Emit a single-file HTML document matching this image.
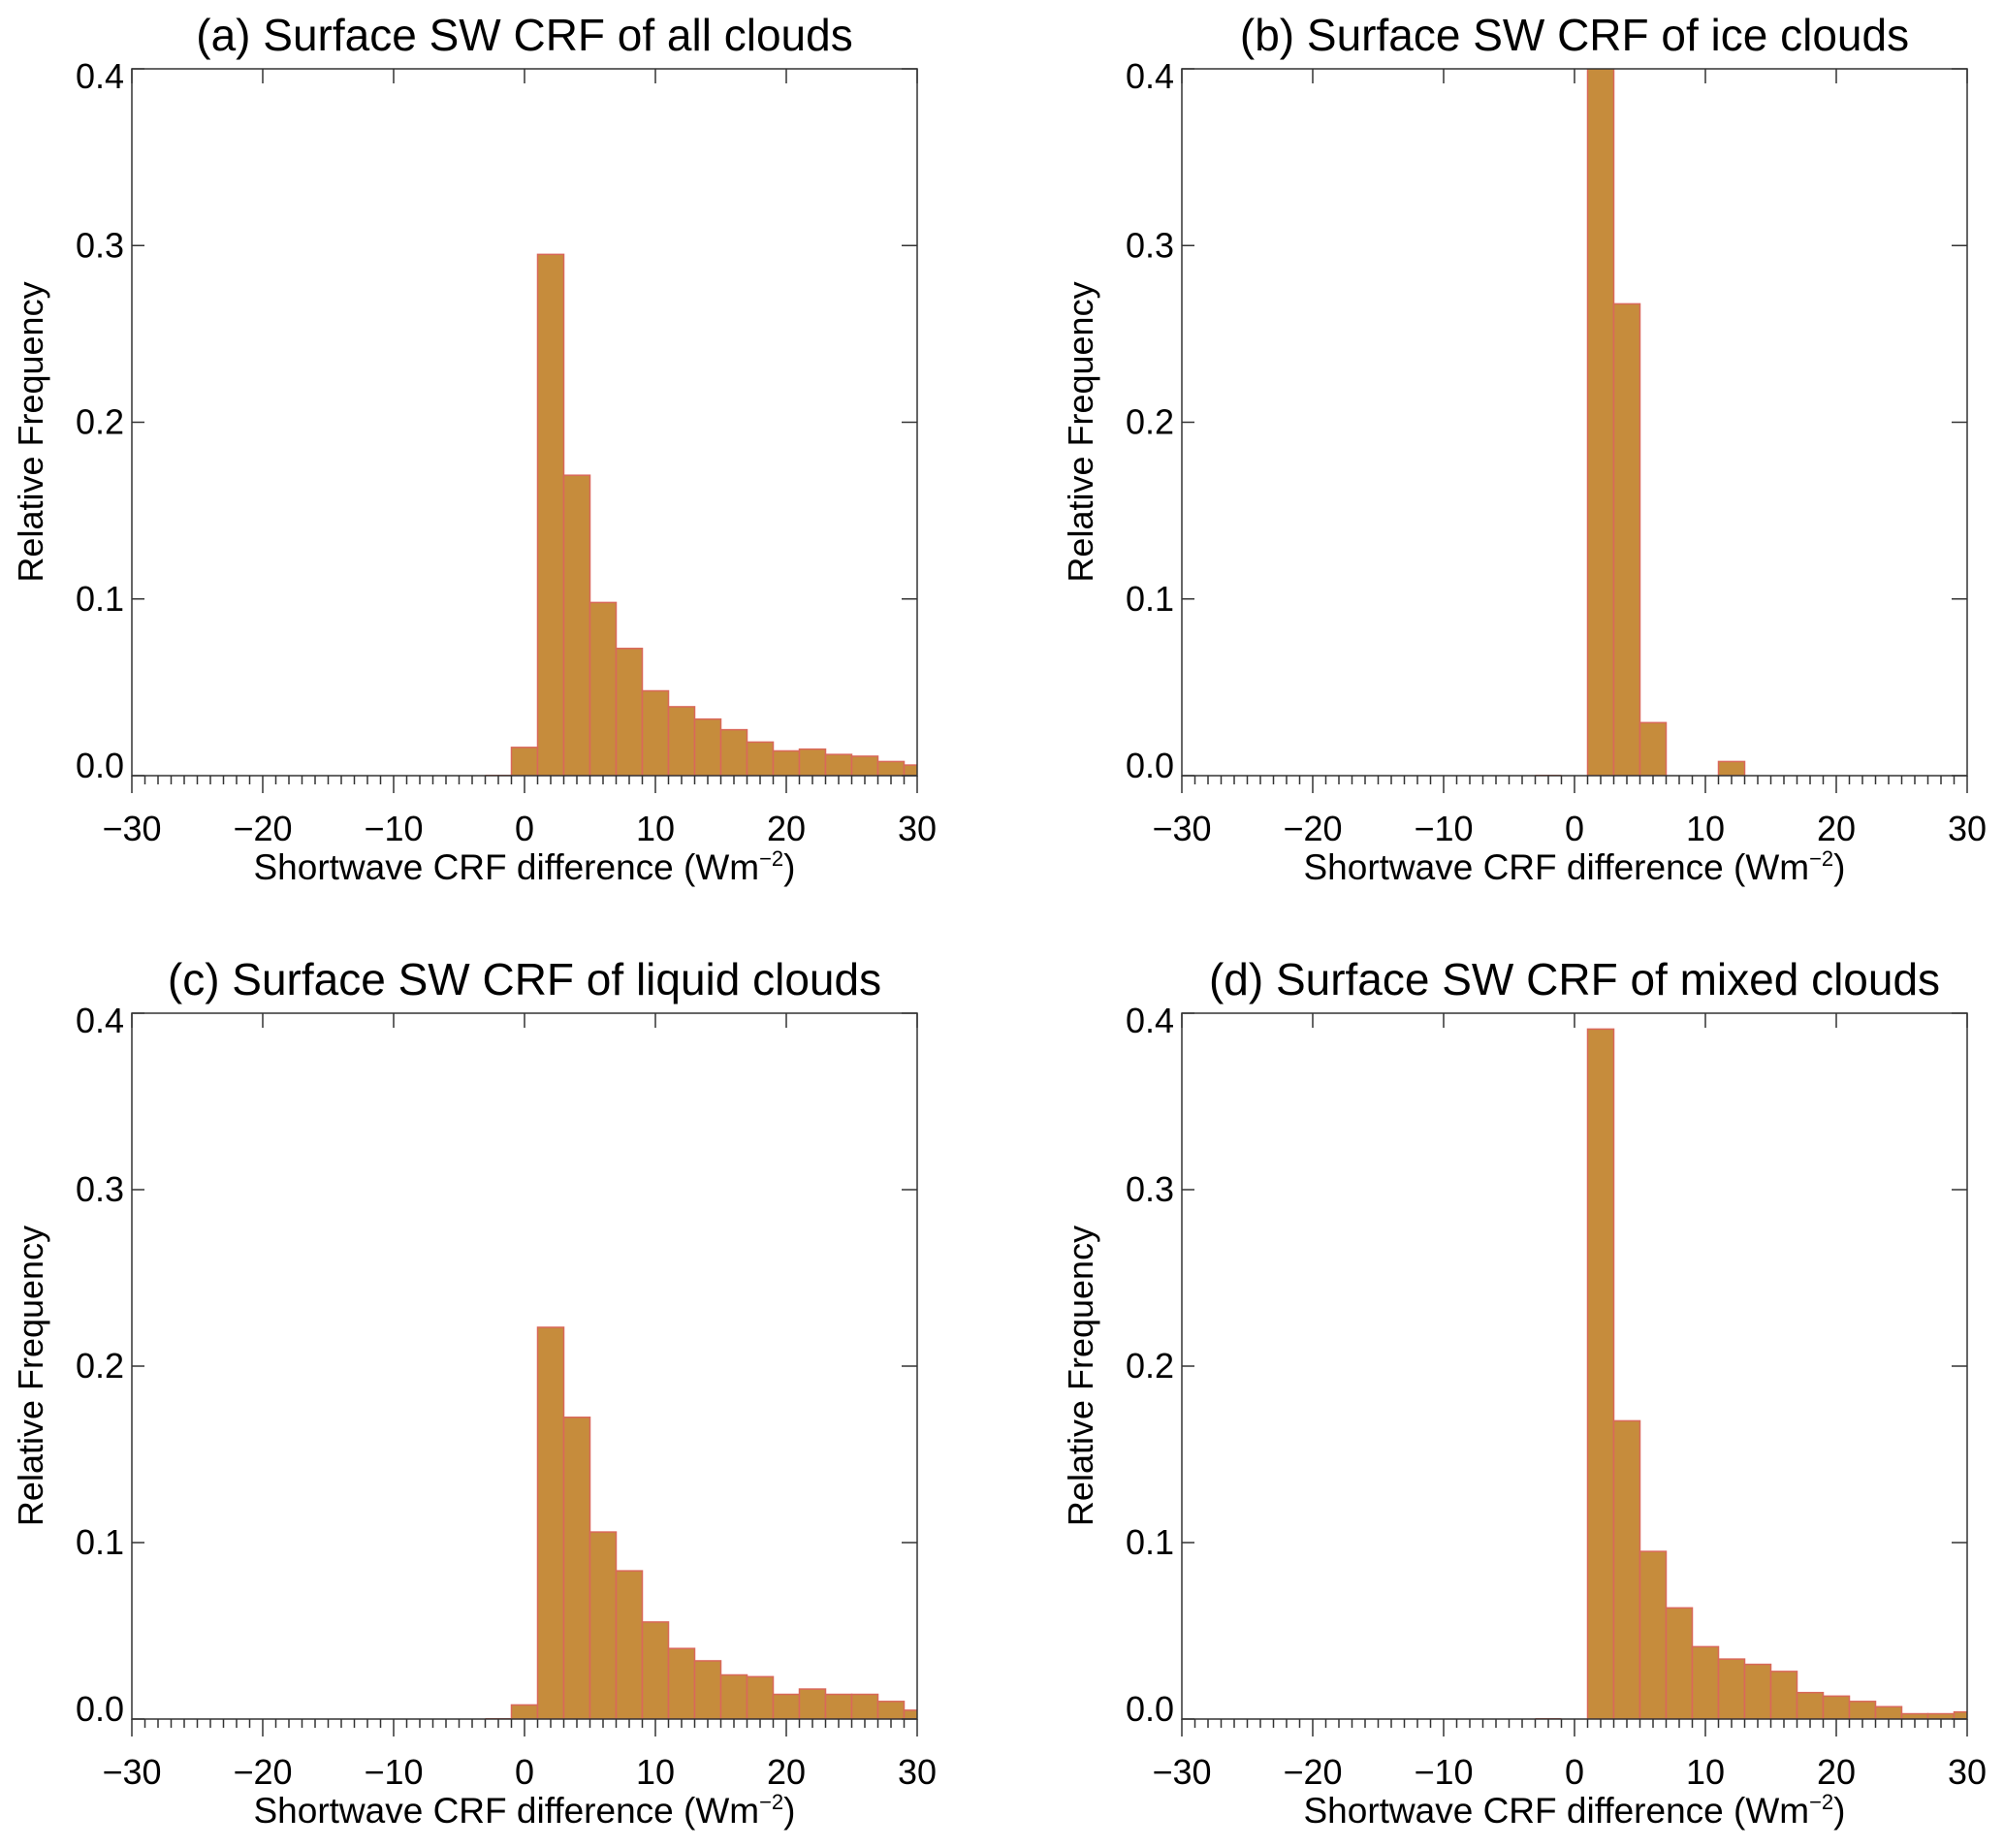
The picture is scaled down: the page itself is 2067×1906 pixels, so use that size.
<!DOCTYPE html>
<html><head><meta charset="utf-8"><style>
html,body{margin:0;padding:0;background:#fff;}
svg{display:block;font-family:"Liberation Sans",sans-serif;}
</style></head><body>
<svg id="fig" width="2067" height="1906" viewBox="0 0 2067 1906" xmlns="http://www.w3.org/2000/svg"></svg>
<script>
const binCenters=[0,2,4,6,8,10,12,14,16,18,20,22,24,26,28,30];
const valuesAll=[0.016,0.295,0.170,0.098,0.072,0.048,0.039,0.032,0.026,0.019,0.014,0.015,0.012,0.011,0.008,0.006];
const valuesIce=[0,0.42,0.267,0.030,0,0,0.008,0,0,0,0,0,0,0,0,0];
const valuesLiquid=[0.008,0.222,0.171,0.106,0.084,0.055,0.040,0.033,0.025,0.024,0.014,0.017,0.014,0.014,0.010,0.005];
const valuesMixed=[0,0.391,0.169,0.095,0.063,0.041,0.034,0.031,0.027,0.015,0.013,0.010,0.007,0.003,0.003,0.004];
const xTicks=[-30,-20,-10,0,10,20,30];
const xTickLabels=["\u221230","\u221220","\u221210","0","10","20","30"];
const yTicks=[0,0.1,0.2,0.3,0.4];
const yTickLabels=["0.0","0.1","0.2","0.3","0.4"];
const titles=["(a) Surface SW CRF of all clouds","(b) Surface SW CRF of ice clouds","(c) Surface SW CRF of liquid clouds","(d) Surface SW CRF of mixed clouds"];

const NS="http://www.w3.org/2000/svg";
const svg=document.getElementById('fig');
function mk(tag,attrs,parent){const e=document.createElementNS(NS,tag);for(const k in attrs)e.setAttribute(k,attrs[k]);(parent||svg).appendChild(e);return e;}

const panels=[
 {L:136,R:946,T:71,B:800,vals:valuesAll,id:'a'},
 {L:1219,R:2029,T:71,B:800,vals:valuesIce,id:'b'},
 {L:136,R:946,T:1045,B:1773,vals:valuesLiquid,id:'c'},
 {L:1219,R:2029,T:1045,B:1773,vals:valuesMixed,id:'d'}
];
panels.forEach((p,i)=>{
 const g=mk('g',{});
 
 
 const xs=v=>p.L+(v+30)/60*(p.R-p.L);
 const ys=v=>p.B-v/0.4*(p.B-p.T);
 const cp=mk('clipPath',{id:'clip'+i},g);
 mk('rect',{x:p.L,y:p.T,width:p.R-p.L,height:p.B-p.T},cp);
 const bars=mk('g',{'clip-path':'url(#clip'+i+')'},g);
 
 
 mk('line',{x1:xs(-3),x2:xs(-1),y1:p.B,y2:p.B,stroke:'#d9685a','stroke-width':2},bars);
 binCenters.forEach((c,j)=>{
  const v=p.vals[j];
  if(v<=0) return;
  const r=mk('rect',{x:xs(c-1),y:ys(v),width:xs(c+1)-xs(c-1),height:p.B-ys(v),fill:'#c68c3c',stroke:'#d9685a','stroke-width':1.5},bars);
  
  
 });
 const frame=mk('rect',{x:p.L,y:p.T,width:p.R-p.L,height:p.B-p.T,fill:'none',stroke:'#333','stroke-width':1.5},g);
 
 
 for(let v=-30;v<=30;v++){
  const maj=v%10===0;
  mk('line',{x1:xs(v),x2:xs(v),y1:p.B,y2:p.B+(maj?18:9),stroke:'#333','stroke-width':1.5},g);
 }
 xTicks.forEach((v,j)=>{
  mk('line',{x1:xs(v),x2:xs(v),y1:p.T,y2:p.T+15,stroke:'#333','stroke-width':1.5},g);
  const t=mk('text',{x:xs(v),y:p.B+67,'text-anchor':'middle','font-size':36,fill:'#000'},g);
  t.textContent=xTickLabels[j];
  
  
 });
 yTicks.forEach((v,j)=>{
  mk('line',{x1:p.L,x2:p.L+13,y1:ys(v),y2:ys(v),stroke:'#333','stroke-width':1.5},g);
  mk('line',{x1:p.R,x2:p.R-16,y1:ys(v),y2:ys(v),stroke:'#333','stroke-width':1.5},g);
  let off=12; if(j===0) off=2; if(j===yTicks.length-1) off=20;
  const t=mk('text',{x:p.L-8,y:ys(v)+off,'text-anchor':'end','font-size':36,fill:'#000'},g);
  t.textContent=yTickLabels[j];
  
  
 });
 const xt=mk('text',{x:(p.L+p.R)/2,y:p.B+107,'text-anchor':'middle','font-size':37,fill:'#000'},g);
 xt.innerHTML='Shortwave CRF difference (Wm<tspan dy="-14" font-size="22">\u22122</tspan><tspan dy="14">)</tspan>';
 
 
 const cy=(p.T+p.B)/2+10;
 const yt=mk('text',{x:p.L-92,y:cy,'text-anchor':'middle','font-size':36,fill:'#000',transform:'rotate(-90 '+(p.L-92)+' '+cy+')'},g);
 yt.textContent='Relative Frequency';
 
 
 const tt=mk('text',{x:(p.L+p.R)/2,y:p.T-19,'text-anchor':'middle','font-size':46,fill:'#000'},g);
 tt.textContent=titles[i];
 
 
});
</script>
</body></html>
